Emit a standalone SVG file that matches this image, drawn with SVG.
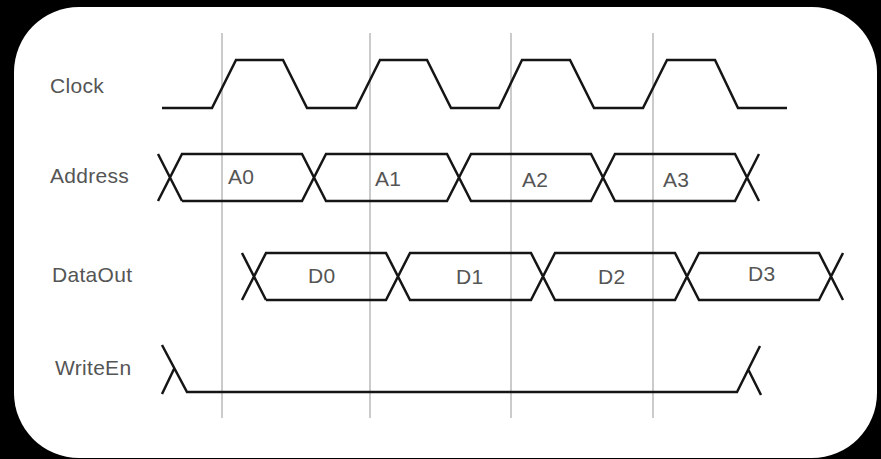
<svg xmlns="http://www.w3.org/2000/svg" width="881" height="459" viewBox="0 0 881 459">
<style>
.lbl{font-family:"Liberation Sans",Arial,sans-serif;font-size:21px;letter-spacing:0.3px;fill:#555}
.sig{fill:none;stroke:#151515;stroke-width:2.5;stroke-linejoin:miter;stroke-linecap:butt}
.grid{stroke:#a8a8a8;stroke-width:1.2}
</style>
<rect x="0" y="0" width="881" height="459" fill="#000"/>
<rect x="14" y="7" width="863" height="451" rx="65" ry="65" fill="#fff"/>
<g id="gridlines">
<line class="grid" x1="222" y1="33" x2="222" y2="418"/>
<line class="grid" x1="370" y1="33" x2="370" y2="418"/>
<line class="grid" x1="511" y1="33" x2="511" y2="418"/>
<line class="grid" x1="653" y1="33" x2="653" y2="418"/>
</g>
<g id="clock">
<text class="lbl" x="50" y="93">Clock</text>
<path class="sig" d="M162,108 L212,108 L236,60 L283,60 L307,108 L356,108 L380,60 L427,60 L451,108 L499,108 L522,60 L570,60 L594,108 L643,108 L667,60 L715,60 L738,108 L787,108"/>
</g>
<g id="address">
<text class="lbl" x="50" y="183">Address</text>
<path class="sig" d="M158,154 L182,201 M158,201 L182,154 L302,154 L326,201 L447,201 L471,154 L591,154 L615,201 L735,201 L759,154 M182,201 L302,201 L326,154 L447,154 L471,201 L591,201 L615,154 L735,154 L759,201"/>
<text class="lbl" x="228" y="184">A0</text>
<text class="lbl" x="375" y="186">A1</text>
<text class="lbl" x="522" y="187">A2</text>
<text class="lbl" x="663" y="187">A3</text>
</g>
<g id="dataout">
<text class="lbl" x="52" y="282">DataOut</text>
<path class="sig" d="M242,253 L266,300 M242,300 L266,253 L386,253 L410,300 L531,300 L555,253 L675,253 L699,300 L819,300 L843,253 M266,300 L386,300 L410,253 L531,253 L555,300 L675,300 L699,253 L819,253 L843,300"/>
<text class="lbl" x="308" y="283">D0</text>
<text class="lbl" x="456" y="284">D1</text>
<text class="lbl" x="598" y="284">D2</text>
<text class="lbl" x="748" y="281">D3</text>
</g>
<g id="writeen">
<text class="lbl" x="55" y="375">WriteEn</text>
<path class="sig" d="M162,345 L187,392 L737,392 L760,346 M174,369 L162,394 M748,369 L761,395"/>
</g>
</svg>
